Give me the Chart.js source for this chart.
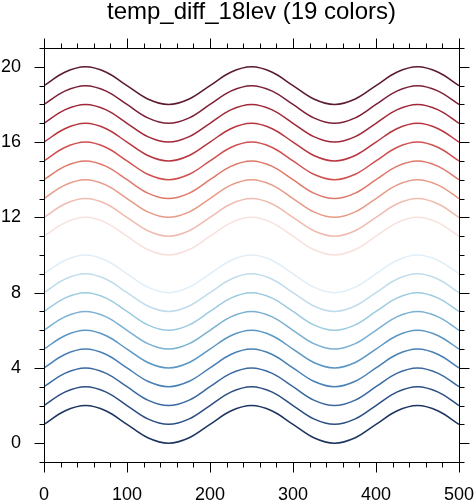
<!DOCTYPE html>
<html>
<head>
<meta charset="utf-8">
<script src="https://cdn.jsdelivr.net/npm/chart.js@4.4.1/dist/chart.umd.min.js"></script>
<style>
  html, body { margin: 0; padding: 0; background: #fff; }
  canvas { display: block; }
</style>
</head>
<body>
<canvas id="myChart" width="474" height="500"></canvas>
<script>
// valores, x de 25 em 25
const xValues = [0, 25, 50, 75, 100, 125, 150, 175, 200, 225, 250, 275, 300, 325, 350, 375, 400, 425, 450, 475, 500];

const line01 = [1, 1.71, 2, 1.71, 1, 0.29, 0, 0.29, 1, 1.71, 2, 1.71, 1, 0.29, 0, 0.29, 1, 1.71, 2, 1.71, 1];
const line02 = [2, 2.71, 3, 2.71, 2, 1.29, 1, 1.29, 2, 2.71, 3, 2.71, 2, 1.29, 1, 1.29, 2, 2.71, 3, 2.71, 2];
const line03 = [3, 3.71, 4, 3.71, 3, 2.29, 2, 2.29, 3, 3.71, 4, 3.71, 3, 2.29, 2, 2.29, 3, 3.71, 4, 3.71, 3];
const line04 = [4, 4.71, 5, 4.71, 4, 3.29, 3, 3.29, 4, 4.71, 5, 4.71, 4, 3.29, 3, 3.29, 4, 4.71, 5, 4.71, 4];
const line05 = [5, 5.71, 6, 5.71, 5, 4.29, 4, 4.29, 5, 5.71, 6, 5.71, 5, 4.29, 4, 4.29, 5, 5.71, 6, 5.71, 5];
const line06 = [6, 6.71, 7, 6.71, 6, 5.29, 5, 5.29, 6, 6.71, 7, 6.71, 6, 5.29, 5, 5.29, 6, 6.71, 7, 6.71, 6];
const line07 = [7, 7.71, 8, 7.71, 7, 6.29, 6, 6.29, 7, 7.71, 8, 7.71, 7, 6.29, 6, 6.29, 7, 7.71, 8, 7.71, 7];
const line08 = [8, 8.71, 9, 8.71, 8, 7.29, 7, 7.29, 8, 8.71, 9, 8.71, 8, 7.29, 7, 7.29, 8, 8.71, 9, 8.71, 8];
const line09 = [9, 9.71, 10, 9.71, 9, 8.29, 8, 8.29, 9, 9.71, 10, 9.71, 9, 8.29, 8, 8.29, 9, 9.71, 10, 9.71, 9];
const line10 = [10, 10.71, 11, 10.71, 10, 9.29, 9, 9.29, 10, 10.71, 11, 10.71, 10, 9.29, 9, 9.29, 10, 10.71, 11, 10.71, 10];
const line11 = [11, 11.71, 12, 11.71, 11, 10.29, 10, 10.29, 11, 11.71, 12, 11.71, 11, 10.29, 10, 10.29, 11, 11.71, 12, 11.71, 11];
const line12 = [12, 12.71, 13, 12.71, 12, 11.29, 11, 11.29, 12, 12.71, 13, 12.71, 12, 11.29, 11, 11.29, 12, 12.71, 13, 12.71, 12];
const line13 = [13, 13.71, 14, 13.71, 13, 12.29, 12, 12.29, 13, 13.71, 14, 13.71, 13, 12.29, 12, 12.29, 13, 13.71, 14, 13.71, 13];
const line14 = [14, 14.71, 15, 14.71, 14, 13.29, 13, 13.29, 14, 14.71, 15, 14.71, 14, 13.29, 13, 13.29, 14, 14.71, 15, 14.71, 14];
const line15 = [15, 15.71, 16, 15.71, 15, 14.29, 14, 14.29, 15, 15.71, 16, 15.71, 15, 14.29, 14, 14.29, 15, 15.71, 16, 15.71, 15];
const line16 = [16, 16.71, 17, 16.71, 16, 15.29, 15, 15.29, 16, 16.71, 17, 16.71, 16, 15.29, 15, 15.29, 16, 16.71, 17, 16.71, 16];
const line17 = [17, 17.71, 18, 17.71, 17, 16.29, 16, 16.29, 17, 17.71, 18, 17.71, 17, 16.29, 16, 16.29, 17, 17.71, 18, 17.71, 17];
const line18 = [18, 18.71, 19, 18.71, 18, 17.29, 17, 17.29, 18, 18.71, 19, 18.71, 18, 17.29, 17, 17.29, 18, 18.71, 19, 18.71, 18];
const line19 = [19, 19.71, 20, 19.71, 19, 18.29, 18, 18.29, 19, 19.71, 20, 19.71, 19, 18.29, 18, 18.29, 19, 19.71, 20, 19.71, 19];

const allLines = [line01, line02, line03, line04, line05, line06, line07, line08, line09, line10,
                  line11, line12, line13, line14, line15, line16, line17, line18, line19];

// temp_diff_18lev, de baixo para cima
const lineColors = ['#1c3560', '#2a4d82', '#3a68a0', '#4880b5', '#5b97c4', '#7ab0d2', '#9ccbe0', '#c0dcec', '#e0eef8',
                    '#ffffff',
                    '#f8e0dc', '#f0bcb0', '#e89a86', '#e0786a', '#d0504f', '#b8363f', '#a02838', '#7d1f35', '#5b1a2b'];

const xTickValues = [0, 100, 200, 300, 400, 500];
const yTickValues = [0, 4, 8, 12, 16, 20];

const titleText = 'temp_diff_18lev (19 colors)';

// titulo centrado na area do grafico
const tituloTopo = {
    id: 'tituloTopo',
    afterDraw(chart) {
        const { ctx, chartArea: a } = chart;
        ctx.save();
        ctx.fillStyle = '#000';
        ctx.font = '24px "Liberation Sans"';
        ctx.textAlign = 'center';
        ctx.textBaseline = 'alphabetic';
        ctx.fillText(titleText, (a.left + a.right) / 2, 18.5);
        ctx.restore();
    }
};

// moldura e marcas (maiores e menores) para fora, nos 4 lados
const frameTicks = {
    id: 'frameTicks',
    afterDatasetsDraw(chart) {
        const { ctx, chartArea: a, scales: { x, y } } = chart;
        const px = v => Math.round(v) + 0.5;
        ctx.save();
        ctx.strokeStyle = '#000';
        ctx.lineWidth = 1;
        ctx.beginPath();
        ctx.rect(px(a.left), px(a.top), Math.round(a.right) - Math.round(a.left), Math.round(a.bottom) - Math.round(a.top));
        for (let v = x.min; v <= x.max; v += 20) {
            const p = px(x.getPixelForValue(v));
            const len = xTickValues.includes(v) ? 10 : 5;
            ctx.moveTo(p, px(a.bottom)); ctx.lineTo(p, px(a.bottom) + len);
            ctx.moveTo(p, px(a.top)); ctx.lineTo(p, px(a.top) - len);
        }
        for (let v = y.min; v <= y.max; v += 1) {
            const p = px(y.getPixelForValue(v));
            const len = yTickValues.includes(v) ? 10 : 5;
            ctx.moveTo(px(a.left), p); ctx.lineTo(px(a.left) - len, p);
            ctx.moveTo(px(a.right), p); ctx.lineTo(px(a.right) + len, p);
        }
        ctx.stroke();
        ctx.restore();
    }
};

const grafico = document.getElementById('myChart');
new Chart(grafico, {
    type: 'line',
    data: {
        datasets: allLines.map((vals, i) => ({
            data: vals.map((v, j) => ({ x: xValues[j], y: v })),
            borderColor: lineColors[i],
            borderWidth: 1.5,
            pointRadius: 0,
            tension: 0.35,
            fill: false
        }))
    },
    options: {
        responsive: false,
        animation: false,
        events: [],
        layout: { padding: { left: 0, right: 15, top: 48, bottom: 0 } },
        plugins: {
            legend: { display: false },
            tooltip: { enabled: false },
            title: { display: false }
        },
        scales: {
            x: {
                type: 'linear',
                min: 0,
                max: 500,
                grid: { display: false, drawTicks: false },
                border: { display: false },
                afterBuildTicks: s => { s.ticks = xTickValues.map(v => ({ value: v })); },
                afterFit: s => { s.height = 38; s.paddingLeft = 0; s.paddingRight = 0; },
                ticks: {
                    color: '#000',
                    padding: 22,
                    maxRotation: 0,
                    font: { family: 'Liberation Sans', size: 18 }
                }
            },
            y: {
                type: 'linear',
                min: -1,
                max: 21,
                grid: { display: false, drawTicks: false },
                border: { display: false },
                afterBuildTicks: s => { s.ticks = yTickValues.map(v => ({ value: v })); },
                afterFit: s => { s.width = 44; s.paddingTop = 0; s.paddingBottom = 0; },
                ticks: {
                    color: '#000',
                    padding: 23,
                    font: { family: 'Liberation Sans', size: 18 }
                }
            }
        }
    },
    plugins: [frameTicks, tituloTopo]
});
</script>
</body>
</html>
